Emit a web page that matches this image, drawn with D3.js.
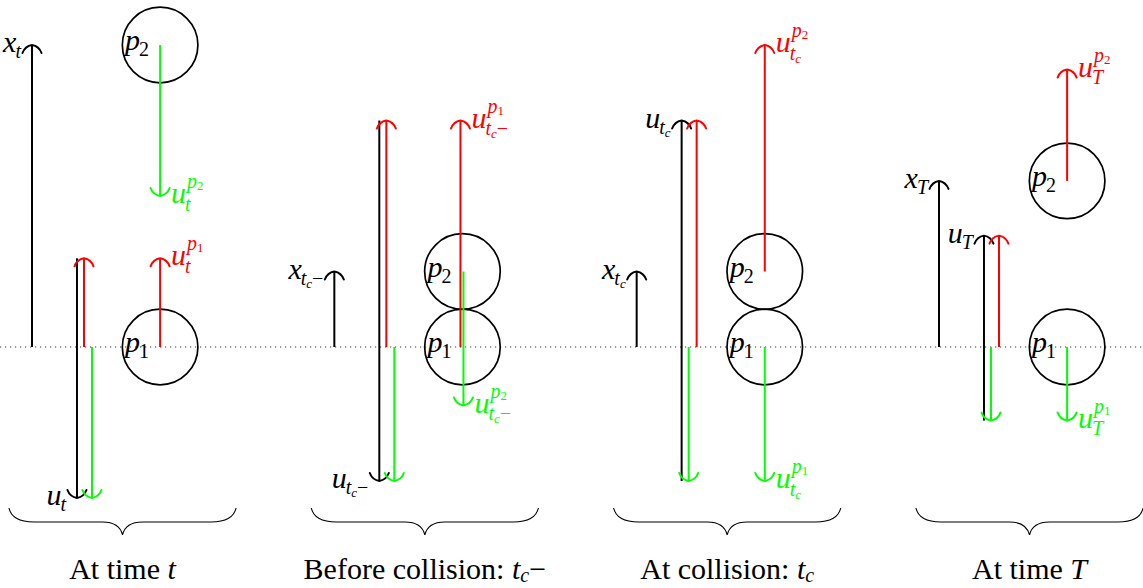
<!DOCTYPE html>
<html><head><meta charset="utf-8">
<script src="https://cdn.jsdelivr.net/npm/d3@7"></script>
<style>html,body{margin:0;padding:0;background:#fff;} svg{display:block;}</style>
</head><body>
<svg id="chart" width="1143" height="588"></svg>
<script>
// ---------------- data ----------------
const titleText      = ["At time ", "Before collision: ", "At collision: ", "At time "];
const timeSymbol     = ["t", "t", "t", "T"];
const timeSubscript  = ["", "c", "c", ""];
const timeSuffix     = ["", "−", "", ""];
const panelOffset    = [0, 8, 16, 24];          // panel origin (x units)
const positionValue  = [8, 2, 2, 4.4];          // length of the x arrow
const p1Center       = [0, 0, 0, 0];
const p2Center       = [8, 2, 2, 4.4];
const p1Velocity     = [2.35, 6, -3.55, -1.95];
const p2Velocity     = [-4, -3.55, 6, 2.95];
const uUpper         = [2.35, 6, 6, 2.95];
const uLower         = [-4, -3.55, -3.55, -1.95];
const uHeadAtTop     = [false, false, true, true];

// ---------------- layout ----------------
const W = 1143, H = 588;
const svg = d3.select("#chart");
const x = d3.scaleLinear().domain([0, 24]).range([32, 939]);
const y = d3.scaleLinear().domain([0, 8]).range([347, 45]);
const R = x(1) - x(0);
const OFF = { xArrow: 0, uLine: 1.19, slotA: 1.376, slotB: 1.587, circle: 3.39, braceL: -0.61, braceR: 5.4 };
const redSlot   = [OFF.slotA, OFF.slotA, OFF.slotB, OFF.slotB];
const greenSlot = [OFF.slotB, OFF.slotB, OFF.slotA, OFF.slotA];
const RED = "#ff0000", GREEN = "#00ff00", BLACK = "#000";
const FONT = "'Liberation Serif','Times New Roman',serif";
const LW = 2;

// baseline
svg.append("line").attr("x1", 0).attr("x2", W).attr("y1", y(0)).attr("y2", y(0))
  .attr("stroke", "#333").attr("stroke-width", 1).attr("stroke-dasharray", "1.2,3.8");

function headPath(px, py, dir) { // dir -1 = up, +1 = down
  const s = -dir;
  return `M${px-9.5},${py+8*s} Q${px-7},${py+1.2*s} ${px},${py} Q${px+7},${py+1.2*s} ${px+9.5},${py+8*s}`;
}
function arrow(g, px, yFrom, yTo, color, headAtTo) {
  g.append("line").attr("x1", px).attr("x2", px).attr("y1", yFrom).attr("y2", yTo)
    .attr("stroke", color).attr("stroke-width", LW);
  if (headAtTo) {
    g.append("path").attr("d", headPath(px, yTo, yTo < yFrom ? -1 : 1))
      .attr("fill", "none").attr("stroke", color).attr("stroke-width", LW)
      .attr("stroke-linecap", "round");
  }
}

const S0 = 30, S1 = 20, S2 = 13;
function mathLabel(parent, spec, px, py, anchor, color) {
  const g = parent.append("g").attr("fill", color).attr("font-family", FONT);
  const put = (t, it, size, tx, ty) => {
    const e = g.append("text").attr("x", tx).attr("y", ty).attr("font-size", size)
      .attr("font-style", it ? "italic" : "normal").text(t);
    return e.node().getComputedTextLength();
  };
  let w = put(spec.base, true, S0, 0, 0);
  let end = w;
  const hasSup = spec.sup && spec.sup.length;
  if (hasSup) {
    let sx = w + 1;
    for (const [t, it, lvl] of spec.sup) sx += put(t, it, lvl ? S2 : S1, sx, lvl ? -13 : -15);
    end = Math.max(end, sx);
  }
  if (spec.sub && spec.sub.length) {
    let sx = w - 1;
    const by = hasSup ? 7.5 : 6;
    for (const [t, it, lvl] of spec.sub) sx += put(t, it, lvl ? S2 : S1, sx, lvl ? by + 3 : by);
    end = Math.max(end, sx);
  }
  const tx = anchor === "end" ? px - end : px;
  g.attr("transform", `translate(${tx},${py + 7})`);
}

function timeSub(i) {
  const r = [[timeSymbol[i], true, 0]];
  if (timeSubscript[i]) r.push([timeSubscript[i], true, 1]);
  if (timeSuffix[i]) r.push([timeSuffix[i], false, 0]);
  return r;
}

panelOffset.forEach((p0, i) => {
  const g = svg.append("g");
  const cx = x(p0 + OFF.circle);
  // circles
  [p1Center[i], p2Center[i]].forEach(c => {
    g.append("circle").attr("cx", cx).attr("cy", y(c)).attr("r", R)
      .attr("fill", "none").attr("stroke", BLACK).attr("stroke-width", 1.7);
  });
  // position arrow
  const xa = x(p0 + OFF.xArrow);
  arrow(g, xa, y(0), y(positionValue[i]), BLACK, true);
  mathLabel(g, { base: "x", sub: timeSub(i) }, xa - 11, y(positionValue[i]), "end", BLACK);
  // u line (velocity range)
  const xu = x(p0 + OFF.uLine);
  if (uHeadAtTop[i]) {
    arrow(g, xu, y(uLower[i]), y(uUpper[i]), BLACK, true);
    mathLabel(g, { base: "u", sub: timeSub(i) }, xu - 11, y(uUpper[i]), "end", BLACK);
  } else {
    arrow(g, xu, y(uUpper[i]), y(uLower[i]), BLACK, true);
    mathLabel(g, { base: "u", sub: timeSub(i) }, xu - 11, y(uLower[i]), "end", BLACK);
  }
  arrow(g, x(p0 + redSlot[i]), y(0), y(uUpper[i]), RED, true);
  arrow(g, x(p0 + greenSlot[i]), y(0), y(uLower[i]), GREEN, true);
  // particle velocity arrows
  const parts = [[p1Center[i], p1Velocity[i], "1"], [p2Center[i], p2Velocity[i], "2"]];
  parts.forEach(([c, v, k]) => {
    const col = v > 0 ? RED : GREEN;
    const nudge = (i === 1) ? (v > 0 ? -2 : 1) : 0;
    const px = cx + nudge;
    arrow(g, px, y(c), y(c + v), col, true);
    mathLabel(g, { base: "u", sub: timeSub(i), sup: [["p", true, 0], [k, false, 1]] },
      px + 11, y(c + v), "start", col);
  });
  // p labels
  [[p1Center[i], "1"], [p2Center[i], "2"]].forEach(([c, k]) => {
    mathLabel(g, { base: "p", sub: [[k, false, 0]] }, cx - 11, y(c) - 2, "end", BLACK);
  });
  // brace
  const b0 = x(p0 + OFF.braceL), b1 = x(p0 + OFF.braceR), bm = (b0 + b1) / 2;
  const yt = 508, ym = 522, yb = 535;
  g.append("path").attr("d",
    `M${b0},${yt} Q${b0+3},${ym} ${b0+25},${ym} L${bm-20},${ym} Q${bm-3},${ym} ${bm},${yb} ` +
    `Q${bm+3},${ym} ${bm+20},${ym} L${b1-25},${ym} Q${b1-3},${ym} ${b1},${yt}`)
    .attr("fill", "none").attr("stroke", BLACK).attr("stroke-width", 1.1);
  // title
  const t = g.append("text").attr("x", bm).attr("y", 579).attr("text-anchor", "middle")
    .attr("font-family", FONT).attr("font-size", 30).attr("fill", BLACK);
  t.append("tspan").text(titleText[i]);
  t.append("tspan").attr("font-style", "italic").text(timeSymbol[i]);
  if (timeSubscript[i]) t.append("tspan").attr("font-style", "italic").attr("font-size", 20).attr("dy", 3).text(timeSubscript[i]);
  if (timeSuffix[i]) t.append("tspan").attr("dy", -3).text(timeSuffix[i]);
});
</script>
</body></html>
